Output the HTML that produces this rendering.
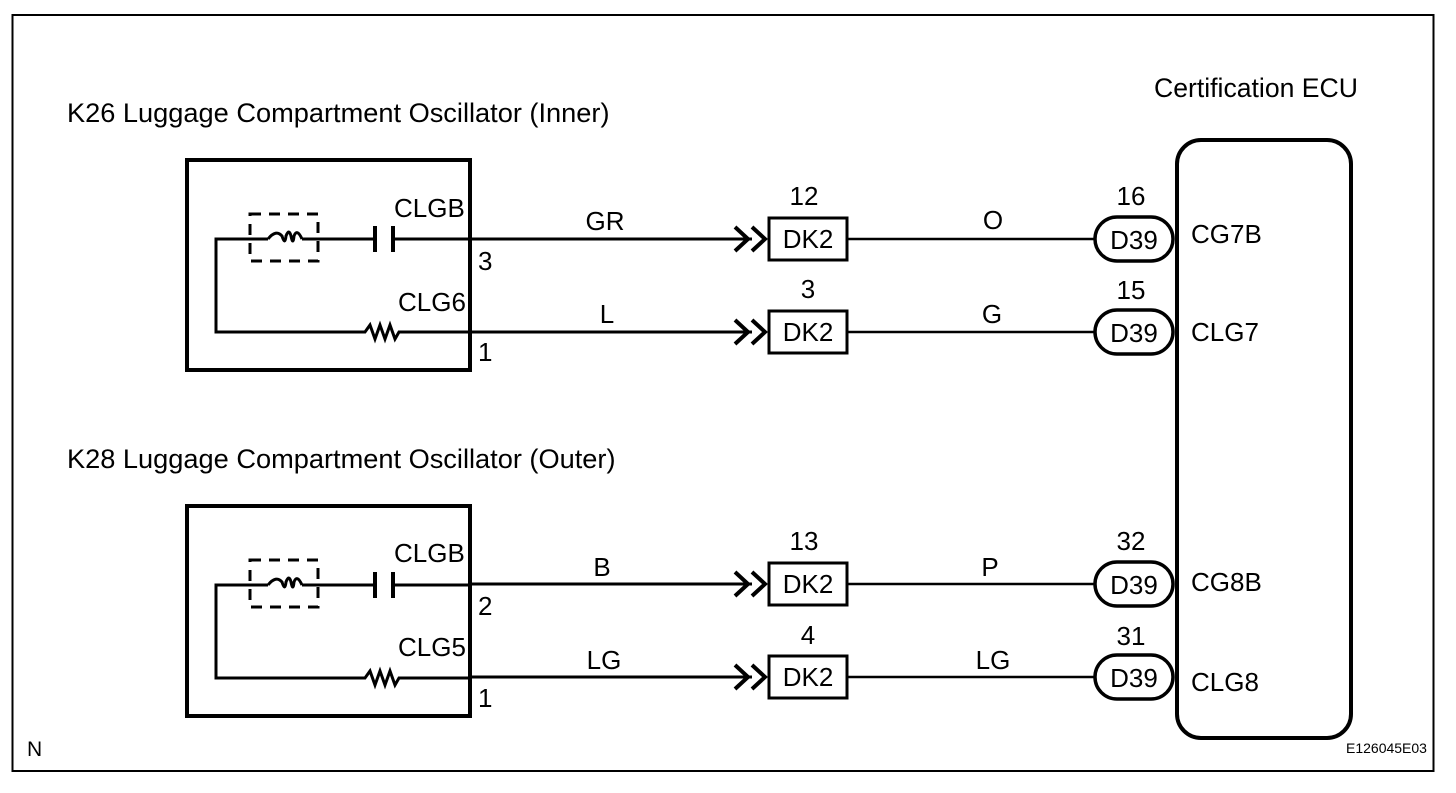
<!DOCTYPE html>
<html><head><meta charset="utf-8"><style>
html,body{margin:0;padding:0;background:#fff}
svg text{font-family:"Liberation Sans",Arial,sans-serif;fill:#000}
</style></head><body>
<svg width="1456" height="788" viewBox="0 0 1456 788" xmlns="http://www.w3.org/2000/svg">
<rect x="12.5" y="15" width="1421" height="756" fill="none" stroke="#000" stroke-width="2"/>
<text x="1154" y="97" font-size="26.6">Certification ECU</text>
<text x="67" y="122" font-size="27.2">K26 Luggage Compartment Oscillator (Inner)</text>
<text x="67" y="468" font-size="27.2">K28 Luggage Compartment Oscillator (Outer)</text>
<text x="27" y="756" font-size="21">N</text>
<text x="1346" y="753" font-size="14">E126045E03</text>
<rect x="1177" y="140" width="174" height="598" rx="24" fill="none" stroke="#000" stroke-width="4"/>

<defs>
<g id="osc">
  <rect x="187" y="0" width="283" height="210" fill="none" stroke="#000" stroke-width="4"/>
  <polyline points="470,79 216,79 216,172 365,172 370,165 375,179 380,165 385,179 390,165 395,179 399,172 470,172" fill="none" stroke="#000" stroke-width="3"/>
  <rect x="250" y="54" width="68" height="47" fill="none" stroke="#000" stroke-width="3" stroke-dasharray="11,8"/>
  <rect x="268" y="74" width="34" height="12" fill="#fff"/>
  <path d="M268,79 Q276,69 282,76 Q285,86 286,76 Q289,68 291,76 Q293,86 294,76 Q297,68 302,79" fill="none" stroke="#000" stroke-width="3"/>
  <rect x="374" y="69" width="20" height="22" fill="#fff"/>
  <line x1="375" y1="66" x2="375" y2="92" stroke="#000" stroke-width="4"/>
  <line x1="393" y1="66" x2="393" y2="92" stroke="#000" stroke-width="4"/>
</g>
<g id="wire">
  <line x1="470" y1="0" x2="752" y2="0" stroke="#000" stroke-width="3"/>
  <polyline points="735,-12 748,0 735,12" fill="none" stroke="#000" stroke-width="4"/>
  <polyline points="752,-12 765,0 752,12" fill="none" stroke="#000" stroke-width="4"/>
  <rect x="769" y="-21" width="78" height="42" fill="#fff" stroke="#000" stroke-width="3"/>
  <text x="808" y="9" font-size="26" text-anchor="middle">DK2</text>
  <line x1="847" y1="0" x2="1096" y2="0" stroke="#000" stroke-width="2.5"/>
  <rect x="1095" y="-22" width="78" height="44" rx="22" fill="#fff" stroke="#000" stroke-width="3.5"/>
  <text x="1134" y="10" font-size="26" text-anchor="middle">D39</text>
</g>
</defs>

<use href="#osc" transform="translate(0,160)"/>
<use href="#osc" transform="translate(0,506)"/>
<use href="#wire" transform="translate(0,239)"/>
<use href="#wire" transform="translate(0,332)"/>
<use href="#wire" transform="translate(0,584)"/>
<use href="#wire" transform="translate(0,677)"/>

<g font-size="26">
<text x="394" y="217">CLGB</text>
<text x="478" y="270">3</text>
<text x="398" y="311">CLG6</text>
<text x="478" y="361">1</text>
<text x="605" y="230" text-anchor="middle">GR</text>
<text x="607" y="323" text-anchor="middle">L</text>
<text x="804" y="205" text-anchor="middle">12</text>
<text x="808" y="298" text-anchor="middle">3</text>
<text x="993" y="229" text-anchor="middle">O</text>
<text x="992" y="323" text-anchor="middle">G</text>
<text x="1131" y="205" text-anchor="middle">16</text>
<text x="1131" y="299" text-anchor="middle">15</text>
<text x="1191" y="243">CG7B</text>
<text x="1191" y="341">CLG7</text>

<text x="394" y="562">CLGB</text>
<text x="478" y="615">2</text>
<text x="398" y="656">CLG5</text>
<text x="478" y="707">1</text>
<text x="602" y="576" text-anchor="middle">B</text>
<text x="604" y="669" text-anchor="middle">LG</text>
<text x="804" y="550" text-anchor="middle">13</text>
<text x="808" y="644" text-anchor="middle">4</text>
<text x="990" y="576" text-anchor="middle">P</text>
<text x="993" y="669" text-anchor="middle">LG</text>
<text x="1131" y="550" text-anchor="middle">32</text>
<text x="1131" y="645" text-anchor="middle">31</text>
<text x="1191" y="591">CG8B</text>
<text x="1191" y="691">CLG8</text>
</g>
</svg>
</body></html>
